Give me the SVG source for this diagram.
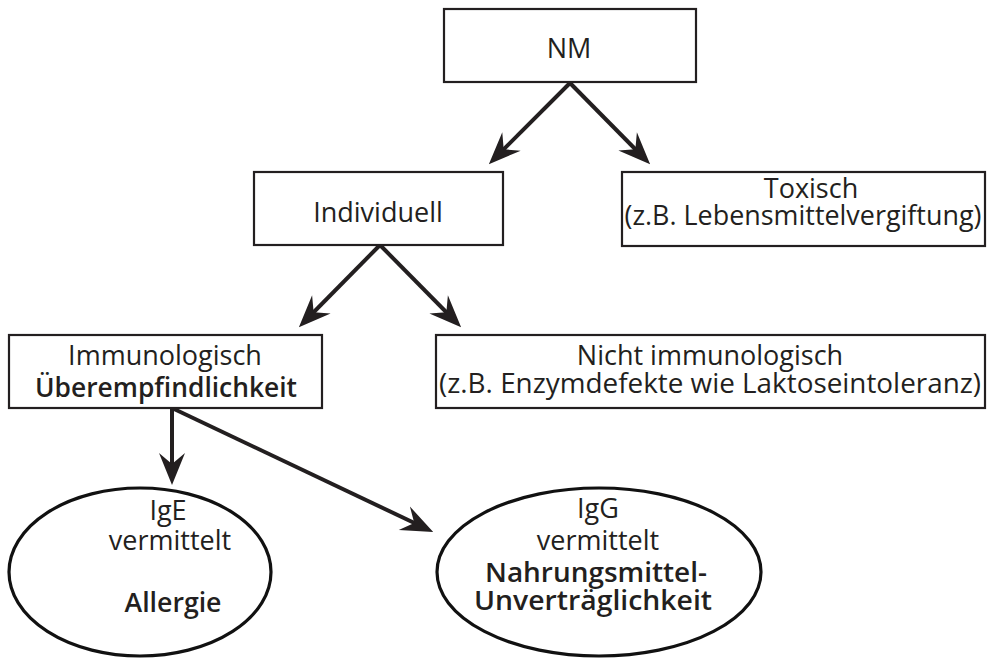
<svg xmlns="http://www.w3.org/2000/svg" width="989" height="659" viewBox="0 0 989 659">
  <style>
    .box { fill: #ffffff; stroke: #231f20; stroke-width: 2.2; }
    .ell { fill: #ffffff; stroke: #111111; stroke-width: 3.2; }
    .t { font-family: "Open Sans", "Noto Sans", sans-serif; font-size: 27px; fill: #231f20; text-anchor: middle; }
    .b { font-weight: 600; }
    .edge { fill: none; stroke: #231f20; stroke-width: 4; marker-end: url(#arr); }
  </style>
  <defs>
    <marker id="arr" viewBox="-32 -17 44 34" markerWidth="44" markerHeight="34" refX="0" refY="0" orient="auto" markerUnits="userSpaceOnUse">
      <path d="M8,0 L-24,-13 L-13,0 L-24,13 Z" fill="#231f20"/>
    </marker>
  </defs>
  <rect width="989" height="659" fill="#ffffff"/>

  <g id="connectors">
    <path class="edge" d="M570,83 L494.5,158.5"/>
    <path class="edge" d="M570,83 L644.5,158.5"/>
    <path class="edge" d="M380,245 L304.5,321.5"/>
    <path class="edge" d="M380,245 L455.5,321.5"/>
    <path class="edge" d="M172,408 L172,477"/>
    <path class="edge" d="M172,408 L426,528.5"/>
  </g>

  <g id="nm">
    <rect class="box" x="444" y="9" width="252" height="73"/>
    <text class="t" x="569" y="58">NM</text>
  </g>

  <g id="individuell">
    <rect class="box" x="254" y="172" width="249" height="73"/>
    <text class="t" x="378" y="222">Individuell</text>
  </g>

  <g id="toxisch">
    <rect class="box" x="622" y="172" width="363" height="74"/>
    <text class="t" x="811" y="198">Toxisch</text>
    <text class="t" x="803" y="225" textLength="357" lengthAdjust="spacingAndGlyphs">(z.B. Lebensmittelvergiftung)</text>
  </g>

  <g id="immunologisch">
    <rect class="box" x="9" y="335" width="313" height="73"/>
    <text class="t" x="165" y="365">Immunologisch</text>
    <text class="t b" x="166" y="397" textLength="262" lengthAdjust="spacingAndGlyphs">Überempfindlichkeit</text>
  </g>

  <g id="nicht-immunologisch">
    <rect class="box" x="436" y="335" width="549" height="73"/>
    <text class="t" x="710" y="365">Nicht immunologisch</text>
    <text class="t" x="710" y="393" textLength="542" lengthAdjust="spacingAndGlyphs">(z.B. Enzymdefekte wie Laktoseintoleranz)</text>
  </g>

  <g id="ige">
    <ellipse class="ell" cx="140" cy="572" rx="131" ry="84"/>
    <text class="t" x="168" y="520">IgE</text>
    <text class="t" x="170" y="550">vermittelt</text>
    <text class="t b" x="173" y="612" textLength="97" lengthAdjust="spacingAndGlyphs">Allergie</text>
  </g>

  <g id="igg">
    <ellipse class="ell" cx="599" cy="572" rx="162" ry="84"/>
    <text class="t" x="598" y="518">IgG</text>
    <text class="t" x="598" y="550">vermittelt</text>
    <text class="t b" x="596" y="582" textLength="222" lengthAdjust="spacingAndGlyphs">Nahrungsmittel-</text>
    <text class="t b" x="593" y="610" textLength="238" lengthAdjust="spacingAndGlyphs">Unverträglichkeit</text>
  </g>
</svg>
